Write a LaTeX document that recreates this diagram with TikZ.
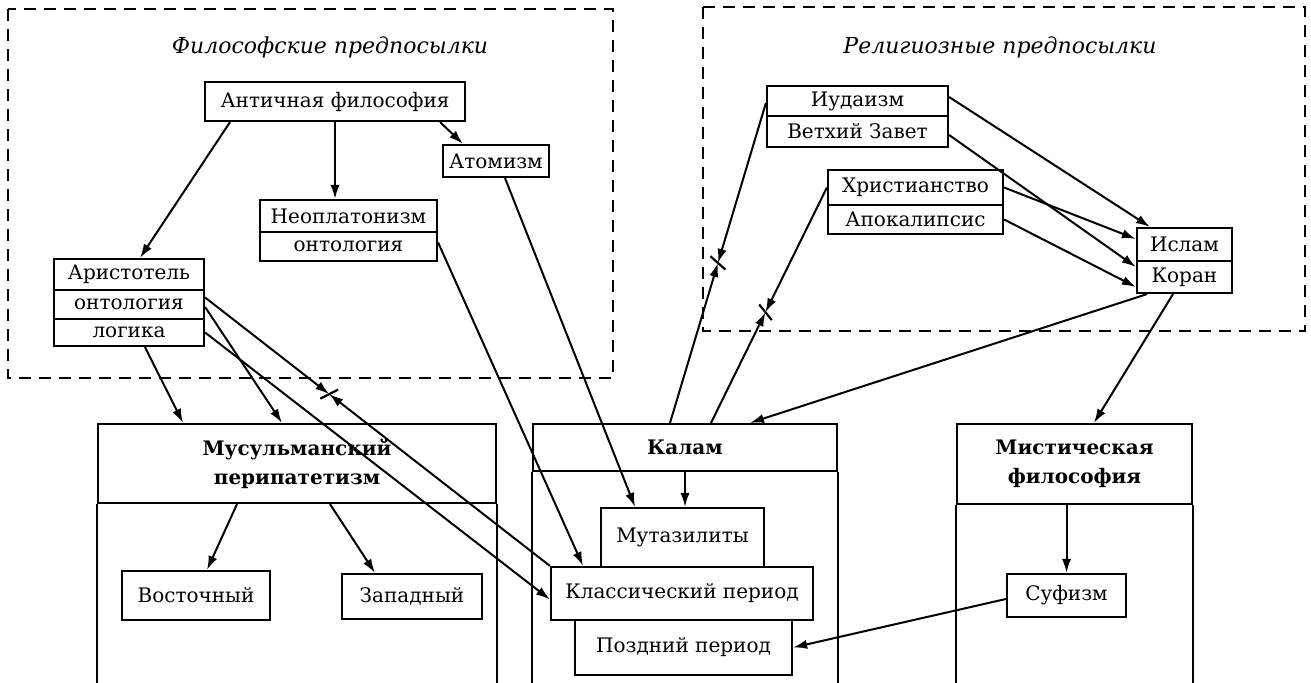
\documentclass[tikz,border=0pt]{standalone}
\usepackage{fontspec}
\setmainfont{DejaVu Serif}
\usepackage{tikz}
\usetikzlibrary{arrows.meta, calc}

\begin{document}
\begin{tikzpicture}[
    x=0.5pt, y=-0.5pt,
    box/.style={rectangle, draw, line width=1.1pt, fill=white, inner sep=0pt, font=\fontsize{10}{12}\selectfont},
    head/.style={rectangle, draw, line width=1.1pt, inner sep=0pt, align=center, font=\fontsize{10}{14.5}\selectfont\bfseries},
    zone/.style={draw, line width=1.3pt, dash pattern=on 6pt off 4pt},
    ttl/.style={font=\fontsize{11}{13}\selectfont\itshape},
    arr/.style={-{Latex[length=7pt, width=4.6pt]}, line width=1pt},
    wall/.style={line width=1.1pt},
    cross/.style={line width=1.1pt}
]
\useasboundingbox (0,0) rectangle (1311,683);

\draw[zone] (8,9) rectangle (613,378);
\draw[zone] (703,7) rectangle (1305,331);
\node[ttl] (philttl) at (330,47) {Философские предпосылки};
\node[ttl] (relttl) at (1000,47) {Религиозные предпосылки};

\node[box, minimum width=130pt, minimum height=19.5pt] (anti) at (335,101.5) {Античная философия};
\node[box, minimum width=53pt, minimum height=16pt] (atom) at (496,161) {Атомизм};
\node[box, minimum width=88.5pt, minimum height=16pt] (neo) at (348.5,216) {Неоплатонизм};
\node[box, minimum width=88.5pt, minimum height=14.5pt] (neoont) at (348.5,246.5) {онтология};
\node[box, minimum width=75pt, minimum height=15.5pt] (arist) at (129,274.5) {Аристотель};
\node[box, minimum width=75pt, minimum height=14.5pt] (aristont) at (129,304.5) {онтология};
\node[box, minimum width=75pt, minimum height=13.5pt] (aristlog) at (129,332.5) {логика};

\node[box, minimum width=90.5pt, minimum height=15pt] (jud) at (857.5,101) {Иудаизм};
\node[box, minimum width=90.5pt, minimum height=15.5pt] (vz) at (857.5,131.5) {Ветхий Завет};
\node[box, minimum width=87.5pt, minimum height=17.5pt] (chr) at (915.5,187.5) {Христианство};
\node[box, minimum width=87.5pt, minimum height=14.5pt] (apo) at (915.5,219.5) {Апокалипсис};
\node[box, minimum width=47.5pt, minimum height=16.5pt] (islam) at (1184.5,244.5) {Ислам};
\node[box, minimum width=47.5pt, minimum height=16pt] (koran) at (1184.5,277) {Коран};

\coordinate (bot) at (0,683);
\node[head, minimum width=199pt, minimum height=39.5pt] (musl) at (297,463.5) {Мусульманский\\перипатетизм};
\node[head, minimum width=152pt, minimum height=23.5pt] (kalam) at (685,447.5) {Калам};
\node[head, minimum width=117.5pt, minimum height=40pt] (myst) at (1074.5,464) {Мистическая\\философия};
\draw[wall] (musl.south west) -- (musl.south west |- bot) (musl.south east) -- (musl.south east |- bot);
\draw[wall] (kalam.south west) -- (kalam.south west |- bot) (kalam.south east) -- (kalam.south east |- bot);
\draw[wall] (myst.south west) -- (myst.south west |- bot) (myst.south east) -- (myst.south east |- bot);

\node[box, minimum width=74pt, minimum height=24.5pt] (vost) at (196,595.5) {Восточный};
\node[box, minimum width=70pt, minimum height=22.5pt] (zap) at (412,596.5) {Западный};
\node[box, minimum width=81.5pt, minimum height=29.5pt] (mut) at (682.5,537.5) {Мутазилиты};
\node[box, minimum width=131pt, minimum height=26.5pt] (klass) at (682,593.5) {Классический период};
\node[box, minimum width=108.5pt, minimum height=27.5pt] (pozd) at (683.5,647.5) {Поздний период};
\node[box, minimum width=59.5pt, minimum height=21.5pt] (sufi) at (1066.5,595.5) {Суфизм};

\draw[arr] ($(anti.south)+(-105,0)$) -- ($(arist.north)+(11,0)$);
\draw[arr] (anti.south) -- (anti.south |- neo.north);
\draw[arr] ($(anti.south)+(105,0)$) -- ($(atom.north)+(-33,0)$);
\draw[arr] ($(aristlog.south)+(16,0)$) -- ($(musl.north)+(-114,0)$);
\draw[arr] ($(aristont.east)+(0,2.5)$) -- ($(musl.north)+(-15,0)$);
\draw[arr] (aristlog.east) -- ($(klass.west)+(0,6)$);
\draw[arr] ($(neoont.east)+(0,-4)$) -- ($(klass.north)+(-99,0)$);
\draw[arr] ($(atom.south)+(9,0)$) -- ($(mut.north)+(-47.5,0)$);
\draw[arr] (kalam.south) -- (kalam.south |- mut.north);

\coordinate (aoTop) at ($(aristont.east)+(0,-7)$);
\coordinate (crA) at ($(aoTop)!0.36!(klass.north west)$);
\draw[arr] (aoTop) -- (crA);
\draw[arr] (klass.north west) -- (crA);
\draw[cross] ($(crA)!5pt!65:(aoTop)$) -- ($(crA)!5pt!245:(aoTop)$);

\coordinate (judL) at ($(jud.west)+(0,2)$);
\coordinate (kalJ) at ($(kalam.north)+(-15,0)$);
\coordinate (crJ) at ($(judL)!0.5!(kalJ)$);
\draw[arr] (judL) -- (crJ);
\draw[arr] (kalJ) -- (crJ);
\draw[cross] ($(crJ)!5pt!65:(judL)$) -- ($(crJ)!5pt!245:(judL)$);

\coordinate (kalC) at ($(kalam.north)+(26,0)$);
\coordinate (crC) at ($(chr.west)!0.53!(kalC)$);
\draw[arr] (chr.west) -- (crC);
\draw[arr] (kalC) -- (crC);
\draw[cross] ($(crC)!5pt!65:(chr.west)$) -- ($(crC)!5pt!245:(chr.west)$);

\draw[arr] ($(jud.east)+(0,-4)$) -- ($(islam.north)+(-34.5,0)$);
\draw[arr] ($(vz.east)+(0,3.5)$) -- ($(koran.west)+(0,-10)$);
\draw[arr] (chr.east) -- ($(islam.west)+(0,-5.5)$);
\draw[arr] (apo.east) -- ($(koran.west)+(0,10)$);
\draw[arr] ($(koran.south)+(-37.5,0)$) -- ($(kalam.north)+(65,0)$);
\draw[arr] ($(koran.south)+(-11.5,0)$) -- ($(myst.north)+(19.5,0)$);
\draw[arr] (myst.south -| sufi.north) -- (sufi.north);
\draw[arr] ($(sufi.west)+(0,3.5)$) -- (pozd.east);
\draw[arr] ($(musl.south)+(-60,0)$) -- ($(vost.north)+(11,0)$);
\draw[arr] ($(musl.south)+(33,0)$) -- ($(zap.north)+(-37,0)$);
\end{tikzpicture}
\end{document}
